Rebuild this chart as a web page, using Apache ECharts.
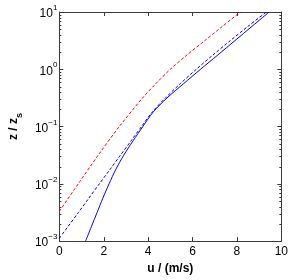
<!DOCTYPE html>
<html>
<head>
<meta charset="utf-8">
<script src="https://cdn.jsdelivr.net/npm/echarts@6/dist/echarts.min.js"></script>
<style>
html,body{margin:0;padding:0;background:#fff;}
#c{width:291px;height:280px;}
</style>
</head>
<body>
<div id="c"></div>
<script>
// log10(z/zs) sample levels and wind speed u (m/s)
const redLogZ   = [-2.48, -2.0, -1.5, -1.0, -0.5, -0.25, 0.0, 0.25, 0.5, 0.75, 1.0];
const redU      = [0.0, 0.85, 1.75, 2.7, 3.75, 4.35, 5.0, 5.75, 6.55, 7.35, 8.15];
const blueDLogZ = [-2.95, -2.75, -2.5, -2.25, -2.0, -1.75, -1.5, -1.25, -1.0, -0.75, -0.5, -0.25, 0.0, 0.25, 0.5, 0.75, 1.0];
const blueDU    = [0.0, 0.38, 0.86, 1.33, 1.8, 2.28, 2.75, 3.23, 3.7, 4.18, 4.78, 5.45, 6.17, 6.92, 7.7, 8.5, 9.33];
const blueSLogZ = [-3.0, -2.75, -2.5, -2.25, -2.0, -1.75, -1.5, -1.25, -1.0, -0.75, -0.5, -0.25, 0.0, 0.25, 0.5, 0.75, 1.0];
const blueSU    = [1.18, 1.44, 1.7, 1.96, 2.24, 2.54, 2.9, 3.32, 3.76, 4.22, 4.85, 5.6, 6.36, 7.14, 7.91, 8.68, 9.45];
const xTicks = [0, 2, 4, 6, 8, 10];
const yDecades = [-3, -2, -1, 0, 1];

function pts(us, lz) { return us.map((u, i) => [u, Math.pow(10, lz[i])]); }

const minorVals = [];
for (let d = yDecades[0]; d < yDecades[yDecades.length - 1]; d++) for (let k = 2; k <= 9; k++) minorVals.push([0, k * Math.pow(10, d)]);

const chart = echarts.init(document.getElementById('c'), null, {renderer: 'canvas'});
const frame = '#3a3a3a';
const font = 'Liberation Sans, Arial, Helvetica, sans-serif';

chart.setOption({
  animation: false,
  backgroundColor: '#fff',
  grid: {left: 45, right: 8, top: 12, bottom: 32, show: false},
  xAxis: [{
    type: 'value', min: 0, max: 10, interval: 2, position: 'bottom',
    name: 'u / (m/s)', nameLocation: 'middle', nameGap: 17,
    nameTextStyle: {fontFamily: font, fontSize: 12, fontWeight: 'bold', color: '#000'},
    axisLine: {show: true, onZero: false, lineStyle: {color: frame, width: 1}},
    axisTick: {show: true, inside: true, length: 4, lineStyle: {color: frame}},
    axisLabel: {fontFamily: font, fontSize: 12, color: '#000', margin: 5,
      formatter: v => xTicks.includes(v) ? String(v) : ''},
    splitLine: {show: false}
  }, {
    type: 'value', min: 0, max: 10, interval: 2, position: 'top',
    axisLine: {show: true, onZero: false, lineStyle: {color: frame, width: 1}},
    axisTick: {show: true, inside: true, length: 4, lineStyle: {color: frame}},
    axisLabel: {show: false}, splitLine: {show: false}
  }],
  yAxis: [{
    type: 'log', logBase: 10, min: 0.001, max: 10, position: 'left',
    name: '{n|z / z}{s|s}', nameLocation: 'middle', nameGap: 32, nameRotate: 90,
    nameTextStyle: {
      rich: {
        n: {fontFamily: font, fontSize: 12, fontWeight: 'bold', color: '#000', verticalAlign: 'top', lineHeight: 16},
        s: {fontFamily: font, fontSize: 9, fontWeight: 'bold', color: '#000', verticalAlign: 'bottom', lineHeight: 16}
      }
    },
    axisLine: {show: true, onZero: false, lineStyle: {color: frame, width: 1}},
    axisTick: {show: true, inside: true, length: 4, lineStyle: {color: frame}},
    axisLabel: {
      margin: 2,
      formatter: v => {
        const e = Math.round(Math.log10(v));
        return '{b|10}{s|' + (e < 0 ? '\u2212' + (-e) : e) + '}';
      },
      rich: {
        b: {fontFamily: font, fontSize: 12, color: '#000', verticalAlign: 'bottom', lineHeight: 16},
        s: {fontFamily: font, fontSize: 8, color: '#000', verticalAlign: 'top', lineHeight: 16}
      }
    },
    splitLine: {show: false}, minorTick: {show: false}
  }, {
    type: 'log', logBase: 10, min: 0.001, max: 10, position: 'right',
    axisLine: {show: true, onZero: false, lineStyle: {color: frame, width: 1}},
    axisTick: {show: true, inside: true, length: 4, lineStyle: {color: frame}},
    axisLabel: {show: false}, splitLine: {show: false}
  }],
  series: [
    {type: 'line', data: pts(redU, redLogZ), smooth: 0.3, showSymbol: false, clip: true,
      lineStyle: {color: '#ff0000', width: 1, type: [3, 2]}},
    {type: 'line', data: pts(blueDU, blueDLogZ), smooth: 0.3, showSymbol: false, clip: true,
      lineStyle: {color: '#0000ff', width: 1, type: [3, 2]}},
    {type: 'line', data: pts(blueSU, blueSLogZ), smooth: 0.3, showSymbol: false, clip: true,
      lineStyle: {color: '#0000ff', width: 1}},
    {type: 'custom', data: minorVals, silent: true, clip: false,
      renderItem: (params, api) => {
        const cs = params.coordSys;
        const y = Math.round(api.coord([0, api.value(1)])[1]) + 0.5;
        return {type: 'group', children: [
          {type: 'line', shape: {x1: cs.x, y1: y, x2: cs.x + 2, y2: y}, style: {stroke: frame, lineWidth: 1}},
          {type: 'line', shape: {x1: cs.x + cs.width, y1: y, x2: cs.x + cs.width - 2, y2: y}, style: {stroke: frame, lineWidth: 1}}
        ]};
      }}
  ]
});
</script>
</body>
</html>
